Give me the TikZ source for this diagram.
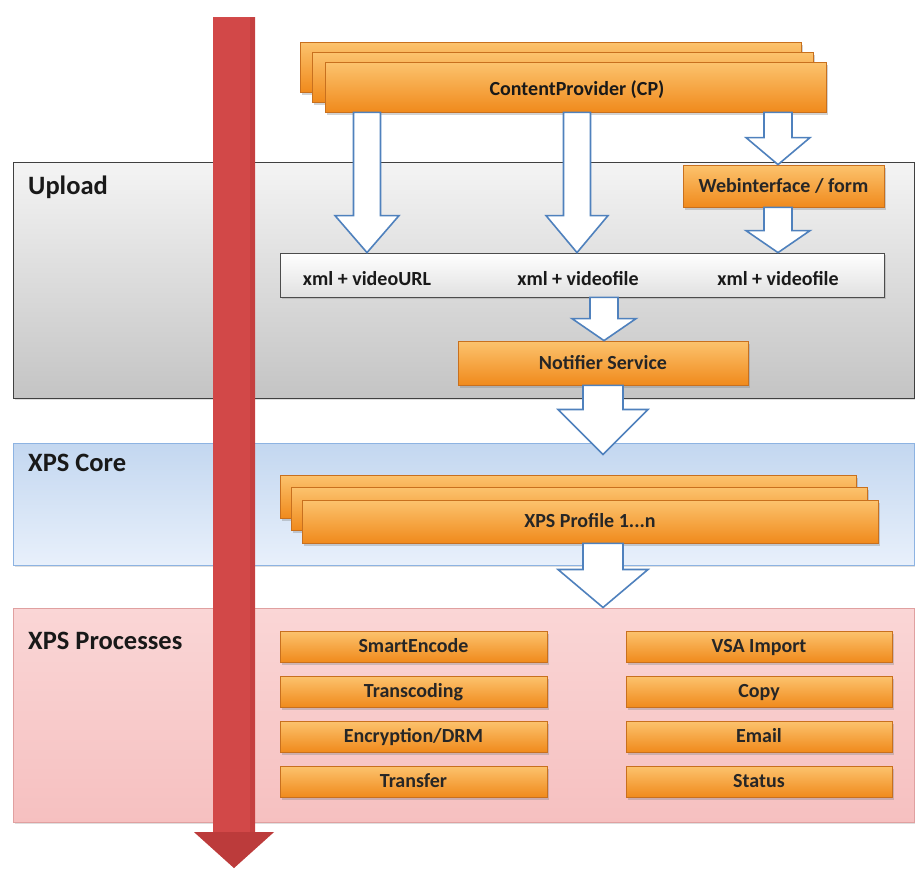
\documentclass[tikz,border=0pt]{standalone}
\usepackage{fontspec}
\setmainfont{Carlito}
\usetikzlibrary{calc,shadows}
\definecolor{orTop}{HTML}{FCC36E}
\definecolor{orBot}{HTML}{F08A1C}
\definecolor{orEdge}{HTML}{C8701E}
\definecolor{arrEdge}{HTML}{4F81BD}
\definecolor{redFill}{HTML}{D24848}
\definecolor{redDark}{HTML}{A83030}
\definecolor{upTop}{HTML}{F4F4F4}
\definecolor{upBot}{HTML}{C4C4C4}
\definecolor{coreTop}{HTML}{C3D7F0}
\definecolor{coreBot}{HTML}{E8F0FB}
\definecolor{coreEdge}{HTML}{8DB3E2}
\definecolor{procTop}{HTML}{FAD6D6}
\definecolor{procBot}{HTML}{F6C0C0}
\definecolor{procEdge}{HTML}{E0A0A0}
\tikzset{
  orbox/.style={draw=orEdge, line width=0.8pt, top color=orTop, bottom color=orBot,
    drop shadow={opacity=0.35, shadow xshift=2pt, shadow yshift=-2.5pt},
    inner sep=0pt, text height=13pt, text depth=1pt,
    font=\bfseries\fontsize{20}{22}\selectfont, text=black!85},
  section/.style={line width=1pt, inner sep=0pt,
    drop shadow={opacity=0.25, shadow xshift=2pt, shadow yshift=-2pt}},
  sectitle/.style={anchor=north west, inner sep=0pt, font=\bfseries\fontsize{26.5}{28}\selectfont, text=black!90},
  lbl/.style={inner sep=0pt, font=\bfseries\fontsize{20}{22}\selectfont, text=black!90},
  blockarrow/.style={draw=arrEdge, fill=white, line width=1.6pt, line join=miter},
}
\newcommand\barrow[6]{% #1 start, #2 end, #3 x, #4 shaft half, #5 head half, #6 head length
  \draw[blockarrow] let \p1=(#1), \p2=(#2) in
    (#3-#4,\y1) -- (#3+#4,\y1) -- (#3+#4,\y2+#6) -- (#3+#5,\y2+#6) -- (#3,\y2)
    -- (#3-#5,\y2+#6) -- (#3-#4,\y2+#6) -- cycle;}
\begin{document}
\begin{tikzpicture}[x=1pt,y=-1pt]
\useasboundingbox[fill=white] (0,0) rectangle (915,870);

% sections
\node[section, draw=black!75, top color=upTop, bottom color=upBot,
  minimum width=901pt, minimum height=236pt] (upload) at (463.5,280) {};
\node[sectitle] (uploadT) at (28,176) {Upload};
\node[section, draw=coreEdge, top color=coreTop, bottom color=coreBot,
  minimum width=901pt, minimum height=122pt] (core) at (463.5,504) {};
\node[sectitle] (coreT) at (28,454) {XPS Core};
\node[section, draw=procEdge, top color=procTop, bottom color=procBot,
  minimum width=901pt, minimum height=214pt] (proc) at (463.5,715) {};
\node[sectitle] (procT) at (28,632) {XPS Processes};

% red time arrow
\coordinate (tTop) at (234,17);
\coordinate (tTip) at (234,868);
\fill[redFill] let \p1=(tTop), \p2=(tTip) in
  (\x1-21pt,\y1) -- (\x1+21pt,\y1) -- (\x1+21pt,\y2+36pt) -- (\x1+40pt,\y2+36pt) -- (\x2,\y2)
  -- (\x1-40pt,\y2+36pt) -- (\x1-21pt,\y2+36pt) -- cycle;
\fill[redDark, opacity=0.3] let \p1=(tTop), \p2=(tTip) in
  (\x1+16pt,\y1) -- (\x1+21pt,\y1) -- (\x1+21pt,\y2+36pt) -- (\x1+16pt,\y2+36pt) -- cycle;
\fill[redDark, opacity=0.5] let \p1=(tTop), \p2=(tTip) in
  (\x1+40pt,\y2+36pt) -- (\x2,\y2) -- (\x1-40pt,\y2+36pt) -- cycle;
\fill[white, opacity=0.15] let \p1=(tTop), \p2=(tTip) in
  (\x1-21pt,\y1) -- (\x1+21pt,\y1) -- (\x1+15pt,\y1+6pt) -- (\x1-15pt,\y1+6pt) -- cycle;

% content provider stack
\node[orbox, minimum width=501pt, minimum height=50pt] (cpb1) at (550.5,67) {};
\node[orbox, minimum width=501pt, minimum height=50pt] (cpb2) at (562.5,77) {};
\node[orbox, minimum width=501pt, minimum height=50pt] (cp) at (575.5,87) {};
\node[lbl] (cpT) at (577,90) {ContentProvider (CP)};

% webinterface
\node[orbox, minimum width=201pt, minimum height=42pt] (web) at (783.5,186) {Webinterface / form};

% xml box
\node[draw=black!70, line width=0.8pt, top color=white, bottom color=black!12,
  drop shadow={opacity=0.3, shadow xshift=2pt, shadow yshift=-2pt},
  minimum width=604pt, minimum height=44pt, inner sep=0pt] (xml) at (582,275) {};
\node[lbl] (x1) at (367,279) {xml + videoURL};
\node[lbl] (x2) at (578,279) {xml + videofile};
\node[lbl] (x3) at (778,279) {xml + videofile};

% notifier
\node[orbox, minimum width=290pt, minimum height=44pt] (notif) at (603,363) {Notifier Service};

% profile stack
\node[orbox, minimum width=576pt, minimum height=43pt] (pb1) at (568,496.5) {};
\node[orbox, minimum width=576pt, minimum height=43pt] (pb2) at (579,508.5) {};
\node[orbox, minimum width=576pt, minimum height=43pt] (prof) at (590,521.5) {XPS Profile 1...n};

% processes
\foreach \n/\t/\y in {p1/SmartEncode/646.5, p2/Transcoding/691.5, p3/Encryption\slash DRM/736.5, p4/Transfer/781.5}
  \node[orbox, minimum width=267pt, minimum height=31pt] (\n) at (413.5,\y) {\t};
\foreach \n/\t/\y in {q1/VSA Import/646.5, q2/Copy/691.5, q3/Email/736.5, q4/Status/781.5}
  \node[orbox, minimum width=266pt, minimum height=31pt] (\n) at (759,\y) {\t};

% block arrows
\barrow{cp.south}{xml.north}{367pt}{13.5pt}{32pt}{37pt}
\barrow{cp.south}{xml.north}{577pt}{13.5pt}{31pt}{37pt}
\barrow{cp.south}{web.north}{778pt}{14pt}{32pt}{27pt}
\barrow{web.south}{xml.north}{778pt}{14pt}{32pt}{22pt}
\barrow{xml.south}{notif.north}{604pt}{14pt}{32pt}{22pt}
\barrow{notif.south}{$(core.north)+(0,12)$}{603pt}{20pt}{45pt}{45pt}
\barrow{prof.south}{proc.north}{603pt}{20pt}{45pt}{38pt}
\end{tikzpicture}
\end{document}
